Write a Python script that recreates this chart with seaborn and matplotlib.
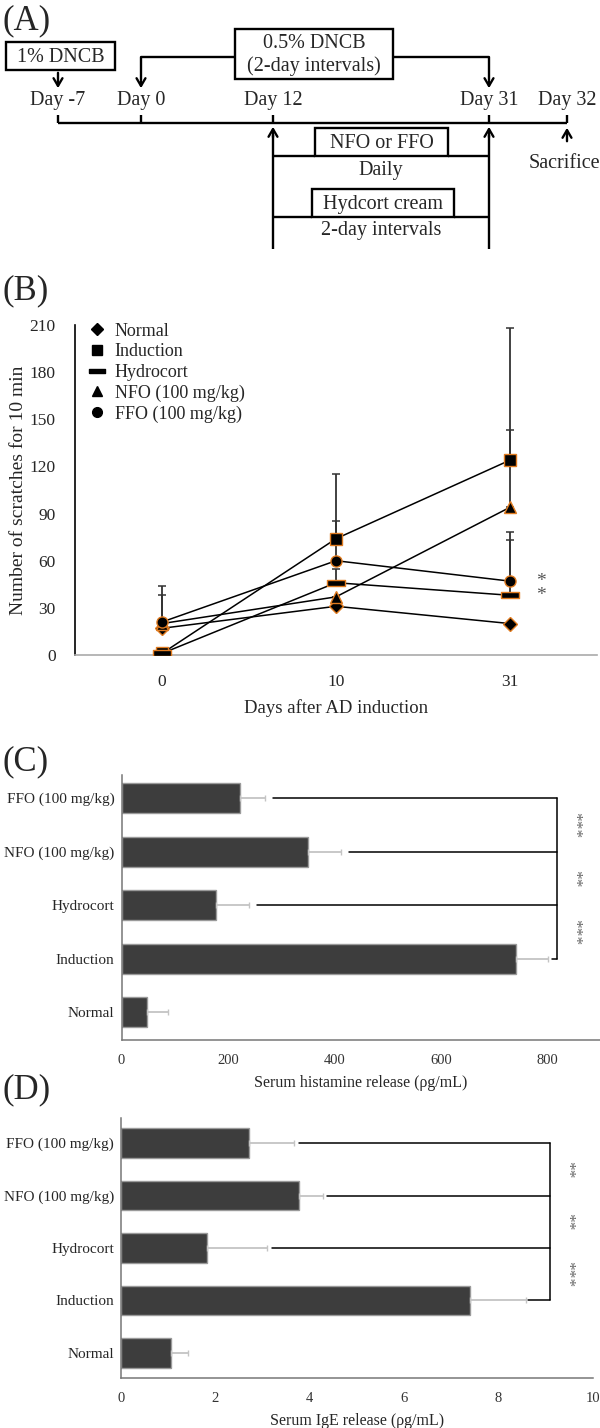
import numpy as np
import pandas as pd
import matplotlib
matplotlib.use("Agg")
import matplotlib.pyplot as plt
import seaborn as sns
from matplotlib.lines import Line2D
from matplotlib.patches import Rectangle

# ---------------- data ----------------
days = ["0", "10", "31"]
groups = ["Normal", "Induction", "Hydrocort", "NFO (100 mg/kg)", "FFO (100 mg/kg)"]
scratch_mean = {
    "Normal":          [17, 31, 20],
    "Induction":       [1, 74, 124],
    "Hydrocort":       [1, 46, 38],
    "NFO (100 mg/kg)": [20, 37, 94],
    "FFO (100 mg/kg)": [21, 60, 47],
}
scratch_sd = {
    "Normal":          [0, 0, 0],
    "Induction":       [0, 41, 84],
    "Hydrocort":       [0, 9, 35],
    "NFO (100 mg/kg)": [18, 0, 49],
    "FFO (100 mg/kg)": [23, 25, 31],
}
scratch_sig = {"FFO (100 mg/kg)": "*", "Hydrocort": "*"}

bar_groups = ["FFO (100 mg/kg)", "NFO (100 mg/kg)", "Hydrocort", "Induction", "Normal"]
histamine_mean = [222, 350, 178, 740, 48]
histamine_sd = [47, 62, 61, 60, 40]
histamine_sig = ["***", "**", "***"]

ige_mean = [2.72, 3.78, 1.82, 7.40, 1.06]
ige_sd = [0.95, 0.49, 1.28, 1.18, 0.37]
ige_sig = ["**", "**", "***"]

# ---------------- style ----------------
sns.set_style("white")
plt.rcParams["font.family"] = ["Liberation Serif", "DejaVu Serif"]

W, H = 600, 1428
fig = plt.figure(figsize=(W / 100, H / 100), dpi=100)


def fx(px):
    return px / W


def fy(py):
    return 1 - py / H


def add_ax(left, top, right, bottom):
    return fig.add_axes([fx(left), fy(bottom), fx(right - left), (bottom - top) / H])


# panel letters
for lab, py in [("(A)", 21), ("(B)", 291), ("(C)", 762), ("(D)", 1090)]:
    fig.text(fx(3), fy(py), lab, fontsize=25, va="center", ha="left")

# ---------------- (A) timeline diagram ----------------
axa = fig.add_axes([0, fy(260), 1, 260 / H])
axa.set_xlim(0, W)
axa.set_ylim(260, 0)
axa.axis("off")
lw = 1.7
kw = dict(color="black", lw=lw, solid_capstyle="butt")
arr = dict(arrowstyle="->,head_length=0.55,head_width=0.32", color="black", lw=lw)
fs = 14.5


def box(x0, y0, x1, y1, text):
    axa.add_patch(Rectangle((x0, y0), x1 - x0, y1 - y0, fill=False, lw=lw, ec="black"))
    axa.text((x0 + x1) / 2, (y0 + y1) / 2 + 1, text, ha="center",
             va="center", fontsize=fs, linespacing=1.2)


box(6, 42, 115, 70, "1% DNCB")
box(235, 29, 393, 79, "0.5% DNCB\n(2-day intervals)")
box(315, 128, 448, 156, "NFO or FFO")
box(312, 189, 454, 217, "Hydcort cream")

day_labels = ["Day -7", "Day 0", "Day 12", "Day 31", "Day 32"]
day_x = [58, 141, 273, 489, 567]
for lab, x in zip(day_labels, day_x):
    axa.text(x, 101, lab, ha="center", va="center", fontsize=fs)
    axa.plot([x, x], [115, 123], **kw)
axa.plot([day_x[0], day_x[-1]], [123, 123], **kw)

axa.annotate("", xy=(58, 91), xytext=(58, 70), arrowprops=arr)
axa.plot([235, 141, 141], [57, 57, 80], **kw)
axa.annotate("", xy=(141, 91), xytext=(141, 78), arrowprops=arr)
axa.plot([393, 489, 489], [57, 57, 80], **kw)
axa.annotate("", xy=(489, 91), xytext=(489, 78), arrowprops=arr)

for x in [273, 489]:
    axa.plot([x, x], [249, 135], **kw)
    axa.annotate("", xy=(x, 124), xytext=(x, 140), arrowprops=arr)
axa.annotate("", xy=(567, 125), xytext=(567, 144), arrowprops=arr)
axa.text(564, 164, "Sacrifice", ha="center", va="center", fontsize=fs)

axa.plot([273, 315], [156, 156], **kw)
axa.plot([448, 489], [156, 156], **kw)
axa.text(381, 171, "Daily", ha="center", va="center", fontsize=fs)
axa.plot([273, 312], [217, 217], **kw)
axa.plot([454, 489], [217, 217], **kw)
axa.text(381, 230, "2-day intervals", ha="center", va="center", fontsize=fs)

# ---------------- (B) scratching ----------------
axb = add_ax(75, 325, 597, 655)
rows = []
for g in groups:
    for i, d in enumerate(days):
        rows.append({"group": g, "pos": i, "mean": scratch_mean[g][i], "sd": scratch_sd[g][i]})
df_b = pd.DataFrame(rows)

bar_marker = [(-1, -0.28), (1, -0.28), (1, 0.28), (-1, 0.28), (-1, -0.28)]
markers = {"Normal": "D", "Induction": "s", "Hydrocort": bar_marker,
           "NFO (100 mg/kg)": "^", "FFO (100 mg/kg)": "o"}
msize = {"Normal": 7, "Induction": 8, "Hydrocort": 13, "NFO (100 mg/kg)": 8, "FFO (100 mg/kg)": 8}

for g in groups:
    sub = df_b[df_b.group == g]
    axb.errorbar(sub["pos"], sub["mean"], yerr=[np.zeros(len(sub)), sub["sd"]],
                 fmt="none", ecolor="#333333", elinewidth=1.3, capsize=3, capthick=1.1, zorder=2)
sns.lineplot(data=df_b, x="pos", y="mean", hue="group", palette=["black"] * 5,
             legend=False, ax=axb, lw=1.1, zorder=3)
for g in groups:
    sub = df_b[df_b.group == g]
    axb.plot(sub["pos"], sub["mean"], ls="none", marker=markers[g], ms=msize[g],
             mfc="black", mec="#e07b20", mew=1.0, zorder=4)
for g, s in scratch_sig.items():
    axb.text(2.15, scratch_mean[g][2], s, fontsize=14, color="#555555", ha="left", va="center")

axb.set_xlim(-0.5, 2.5)
axb.set_ylim(0, 210)
axb.set_yticks(range(0, 211, 30))
axb.set_xticks(range(len(days)))
axb.set_xticklabels(days)
axb.tick_params(axis="y", direction="in", length=4, width=1, labelsize=12.5, pad=14)
axb.tick_params(axis="x", length=0, labelsize=12.5, pad=14)
axb.set_xlabel("Days after AD induction", fontsize=13.5, labelpad=6)
axb.set_ylabel("Number of scratches for 10 min", fontsize=14, labelpad=2)
sns.despine(ax=axb)
axb.spines["left"].set_color("black")
axb.spines["left"].set_linewidth(1.2)
axb.spines["bottom"].set_color("#aaaaaa")
axb.spines["bottom"].set_linewidth(1.2)

handles = [Line2D([], [], ls="none", marker=markers[g], ms=msize[g] - 1 if g != "Hydrocort" else 11,
                  mfc="black", mec="black", label=g) for g in groups]
axb.legend(handles=handles, loc="upper left", bbox_to_anchor=(0.005, 1.04), frameon=False,
           fontsize=13, handlelength=1.0, handletextpad=0.45, labelspacing=0.2,
           borderaxespad=0.2)


# ---------------- (C), (D) bar charts ----------------
def bar_panel(ax, means, sds, sig, xmax, xticks, xlabel, gap, xb, xs, ylims):
    df = pd.DataFrame({"group": bar_groups, "value": means})
    sns.barplot(data=df, y="group", x="value", order=bar_groups, color="#3d3d3d",
                saturation=1, edgecolor="#9a9a9a", linewidth=1.0, width=0.56, ax=ax)
    pos = np.arange(len(bar_groups))
    ax.errorbar(means, pos, xerr=[np.zeros(len(means)), sds], fmt="none",
                ecolor="#c4c4c4", elinewidth=1.3, capsize=2, capthick=1, zorder=3)
    # significance brackets
    for i in range(4):
        start = means[i] + sds[i] + (gap if i < 3 else gap * 0.5)
        ax.plot([start, xb], [i, i], color="black", lw=1.1)
    ax.plot([xb, xb], [0, 3], color="black", lw=1.1)
    for i, s in enumerate(sig):
        ax.text(xs, i + 0.5, s, rotation=270, ha="center", va="center",
                fontsize=12.5, color="#666666")
    ax.set_xlim(0, xmax)
    ax.set_ylim(*ylims)
    ax.set_xticks(xticks)
    ax.set_ylabel("")
    ax.set_xlabel(xlabel, fontsize=11.5, labelpad=6)
    ax.tick_params(axis="x", direction="in", length=4, width=1, labelsize=10.5, pad=10,
                   colors="#333333")
    ax.tick_params(axis="y", length=0, labelsize=11, pad=5)
    sns.despine(ax=ax)
    for sp in ["left", "bottom"]:
        ax.spines[sp].set_color("#777777")
        ax.spines[sp].set_linewidth(1.1)


axc = add_ax(121.5, 775, 600, 1040)
bar_panel(axc, histamine_mean, histamine_sd, histamine_sig, 898, range(0, 801, 200),
          "Serum histamine release (\u03c1g/mL)", 15, 818, 850, (4.52, -0.43))

axd = add_ax(121, 1118, 593, 1378)
bar_panel(axd, ige_mean, ige_sd, ige_sig, 10, range(0, 11, 2),
          "Serum IgE release (\u03c1g/mL)", 0.1, 9.08, 9.45, (4.48, -0.48))

fig.savefig("out.png", dpi=100)
